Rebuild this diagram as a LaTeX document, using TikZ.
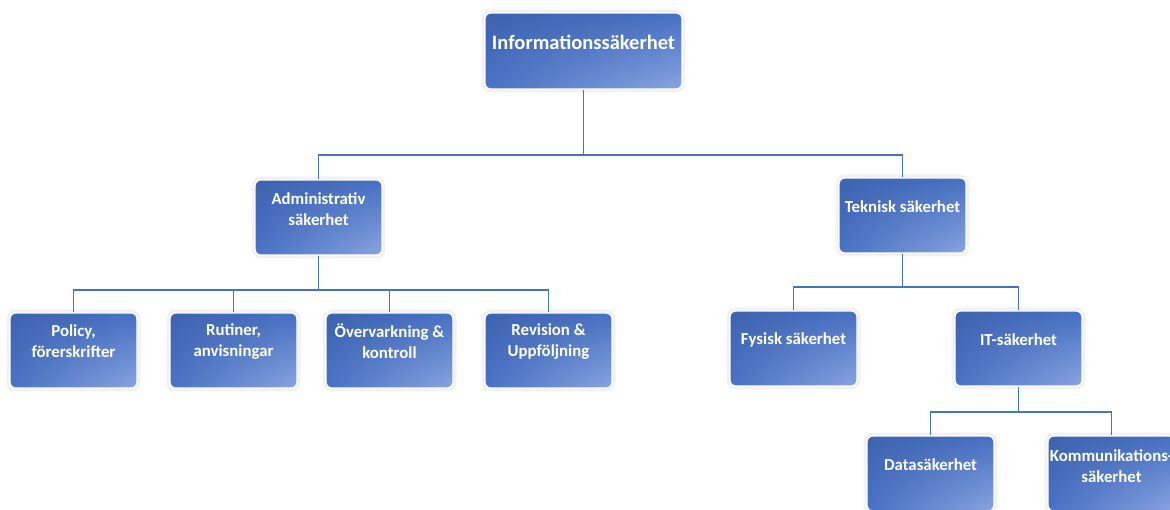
\documentclass[tikz,border=0pt]{standalone}
\usepackage{fontspec}
\setmainfont{Carlito}
\usetikzlibrary{shadings}
\definecolor{linec}{HTML}{4472C4}
\definecolor{ul}{HTML}{3D62AF}
\definecolor{ur}{HTML}{4670C2}
\definecolor{ll}{HTML}{4872C4}
\definecolor{lr}{HTML}{8AA4E0}
\tikzset{
  box/.style={rectangle, rounded corners=6pt, minimum width=127pt, minimum height=75pt,
    upper left=ul, upper right=ur, lower left=ll, lower right=lr,
    draw=white, line width=1.2pt,
    preaction={draw=black!5, line width=7pt, rounded corners=6pt}},
  bigbox/.style={box, minimum width=197pt, minimum height=76pt},
  lbl/.style={text=white, font=\bfseries\fontsize{16.8}{21}\selectfont, align=center, inner sep=0pt},
  biglbl/.style={lbl, font=\bfseries\fontsize{20.5}{24}\selectfont},
  conn/.style={draw=linec, line width=1.3pt}
}
\begin{document}
\begin{tikzpicture}[x=1pt, y=-1pt]
\useasboundingbox (0,0) rectangle (1170,510);
\clip (0,0) rectangle (1170,510);
% boxes
\node[bigbox] (top) at (583.5,51) {};
\node[box] (adm) at (318.5,217.5) {};
\node[box] (tek) at (902.5,215.5) {};
\node[box] (pol) at (73.5,350.5) {};
\node[box] (rut) at (233.5,350.5) {};
\node[box] (ovr) at (389.5,350.5) {};
\node[box] (rev) at (548.5,350.5) {};
\node[box] (fys) at (793.5,348.5) {};
\node[box] (its) at (1018.5,348.5) {};
\node[box] (dat) at (930.5,473.5) {};
\node[box] (kom) at (1111.5,473.5) {};
% labels
\node[biglbl] at ([yshift=9pt]top.center) {Informationssäkerhet};
\node[lbl] at ([yshift=8pt]adm.center) {Administrativ\\säkerhet};
\node[lbl] at ([yshift=9pt]tek.center) {Teknisk säkerhet};
\node[lbl] at ([yshift=9pt]pol.center) {Policy,\\förerskrifter};
\node[lbl] at ([yshift=9pt]rut.center) {Rutiner,\\anvisningar};
\node[lbl] at ([yshift=9pt]ovr.center) {Övervarkning \&\\kontroll};
\node[lbl] at ([yshift=9pt]rev.center) {Revision \&\\Uppföljning};
\node[lbl] at ([yshift=8.5pt]fys.center) {Fysisk säkerhet};
\node[lbl] at ([yshift=8.5pt]its.center) {IT-säkerhet};
\node[lbl] at ([yshift=8.5pt]dat.center) {Datasäkerhet};
\node[lbl] at ([yshift=7.5pt]kom.center) {Kommunikations-\\säkerhet};
% connectors
\coordinate (b1) at (583.5,155);
\coordinate (b2) at (318.5,290);
\coordinate (b3) at (902.5,287);
\coordinate (b4) at (1018.5,412);
\draw[conn] (top.south) -- (b1) -| (adm.north);
\draw[conn] (b1) -| (tek.north);
\draw[conn] (adm.south) -- (b2) -| (pol.north);
\draw[conn] (b2) -| (rut.north);
\draw[conn] (b2) -| (ovr.north);
\draw[conn] (b2) -| (rev.north);
\draw[conn] (tek.south) -- (b3) -| (fys.north);
\draw[conn] (b3) -| (its.north);
\draw[conn] (its.south) -- (b4) -| (dat.north);
\draw[conn] (b4) -| (kom.north);
\end{tikzpicture}
\end{document}
